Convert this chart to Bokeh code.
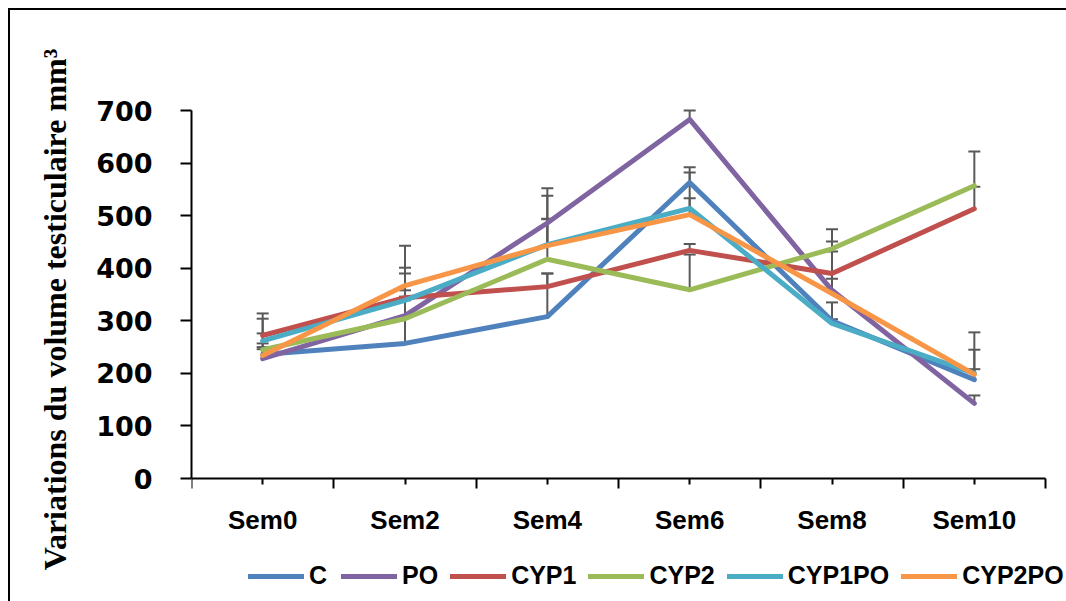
from bokeh.plotting import figure
from bokeh.models import (ColumnDataSource, Whisker, TeeHead, Legend, LegendItem,
                          FixedTicker, Range1d)
from bokeh.core.properties import value
from bokeh.embed import file_html
from bokeh.resources import INLINE

# ---- data ----
weeks = ["Sem0", "Sem2", "Sem4", "Sem6", "Sem8", "Sem10"]
series_names = ["C", "PO", "CYP1", "CYP2", "CYP1PO", "CYP2PO"]
C = [236, 257, 308, 563, 300, 188]
PO = [228, 310, 486, 683, 358, 143]
CYP1 = [272, 344, 365, 434, 390, 513]
CYP2 = [245, 304, 417, 359, 437, 557]
CYP1PO = [262, 339, 445, 514, 295, 200]
CYP2PO = [234, 367, 443, 502, 352, 198]
C_err = [14, 89, 82, 29, 35, 57]
PO_err = [48, 80, 66, 17, 74, 15]
CYP1_err = [42, 14, 25, 12, 61, 42]
CYP2_err = [12, 35, 121, 67, 37, 65]
CYP1PO_err = [42, 62, 49, 68, 8, 78]
CYP2PO_err = [12, 76, 50, 31, 28, 10]
y_ticks = [0, 100, 200, 300, 400, 500, 600, 700]
colors = ["#4F81BD", "#8064A2", "#C0504D", "#9BBB59", "#4BACC6", "#F79646"]

values = [C, PO, CYP1, CYP2, CYP1PO, CYP2PO]
errors = [C_err, PO_err, CYP1_err, CYP2_err, CYP1PO_err, CYP2PO_err]
xs = [i + 0.5 for i in range(len(weeks))]

# frame spans the whole lower area so the legend (drawn in the frame) stays visible;
# the axes are limited with bounds / fixed_location to the 0..700 x 0..6 plot area
p = figure(width=1066, height=601, output_backend="svg", toolbar_location=None,
           x_range=Range1d(0, 6.1475), y_range=Range1d(-207.3, 850.3),
           min_border_left=191, min_border_right=0, min_border_top=31,
           min_border_bottom=14)
# outer chart border (left and top edges visible) painted behind a transparent canvas
p.styles = {"background": "linear-gradient(black, black) 8px 8px / 2px 100% no-repeat, "
                          "linear-gradient(black, black) 8px 8px / 100% 2px no-repeat, white"}
p.outline_line_color = None
p.grid.grid_line_color = None
p.background_fill_alpha = 0
p.border_fill_alpha = 0

# x axis (drawn at y = 0)
p.xaxis.fixed_location = 0
p.xaxis.bounds = (0, len(weeks))
p.xaxis.ticker = FixedTicker(ticks=xs, minor_ticks=list(range(len(weeks) + 1)))
p.xaxis.major_label_overrides = {x: "" for x in xs}
p.xaxis.major_label_text_font_size = "0px"
p.xaxis.major_label_standoff = 0
p.xaxis.axis_line_width = 2
p.xaxis.axis_line_color = "black"
p.xaxis.major_tick_line_width = 2
p.xaxis.minor_tick_line_width = 2
p.xaxis.major_tick_out = 6
p.xaxis.major_tick_in = 0
p.xaxis.minor_tick_out = 10
p.xaxis.minor_tick_in = 0

# category labels under the x axis
label_y = -78
p.text(x=xs, y=[label_y] * len(weeks), text=weeks, text_align="center",
       text_baseline="alphabetic", text_font=value("Liberation Sans"),
       text_font_style="bold", text_font_size="26px", text_color="black")

# y axis
p.yaxis.bounds = (0, 700)
p.yaxis.ticker = FixedTicker(ticks=y_ticks, minor_ticks=[])
p.yaxis.axis_line_width = 2
p.yaxis.axis_line_color = "black"
p.yaxis.major_tick_line_width = 2
p.yaxis.major_tick_out = 11
p.yaxis.major_tick_in = 0
p.yaxis.major_label_text_font = "DejaVu Sans"
p.yaxis.major_label_text_font_style = "bold"
p.yaxis.major_label_text_font_size = "27px"
p.yaxis.major_label_text_color = "black"
p.yaxis.major_label_standoff = 28
p.yaxis.axis_label = "Variations du volume testiculaire mm\u00b3"
p.yaxis.axis_label_text_font = "Liberation Serif"
p.yaxis.axis_label_text_font_style = "bold"
p.yaxis.axis_label_text_font_size = "32px"
p.yaxis.axis_label_text_color = "black"
p.yaxis.axis_label_standoff = 20

for name, vals, errs, col in zip(series_names, values, errors, colors):
    src = ColumnDataSource(dict(x=xs, y=vals,
                                upper=[v + e for v, e in zip(vals, errs)]))
    w = Whisker(base="x", lower="y", upper="upper", source=src, dimension="height",
                line_color="#595959", line_width=2,
                upper_head=TeeHead(size=12, line_color="#595959", line_width=2),
                lower_head=None)
    p.add_layout(w)

items = []
for name, vals, col in zip(series_names, values, colors):
    src = ColumnDataSource(dict(x=xs, y=vals))
    r = p.line("x", "y", source=src, line_color=col, line_width=5,
               line_join="round", line_cap="round")
    items.append(LegendItem(label=name, renderers=[r]))

legend = Legend(items=items, orientation="horizontal", location=(57, -3),
                glyph_width=56, glyph_height=22, label_height=22,
                label_standoff=5, spacing=12,
                padding=0, margin=0, border_line_alpha=0, background_fill_alpha=0,
                label_text_font="Liberation Sans", label_text_font_style="bold",
                label_text_font_size="25px", label_text_color="black")
p.add_layout(legend, "center")

open("out.html", "w").write(file_html(p, INLINE))
